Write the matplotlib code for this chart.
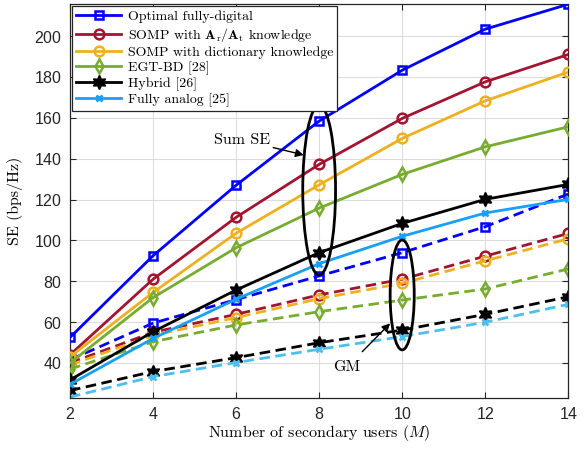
import matplotlib
matplotlib.use("Agg")
import matplotlib.pyplot as plt
from matplotlib.patches import Ellipse
import numpy as np

plt.rcParams['mathtext.fontset'] = 'cm'
plt.rcParams['axes.formatter.use_mathtext'] = True

M = [2, 4, 6, 8, 10, 12, 14]

# sum SE (solid)
optimal = [52.5, 92.5, 127.0, 158.4, 183.3, 203.4, 215.6]
somp_a = [44.0, 81.0, 111.3, 137.2, 159.7, 177.6, 191.0]
somp_dict = [43.0, 74.5, 103.5, 127.2, 149.9, 168.3, 182.4]
egt = [40.0, 72.0, 96.4, 115.8, 132.3, 145.8, 155.6]
hybrid = [31.7, 55.3, 75.7, 94.0, 108.3, 120.1, 127.4]
analog = [29.5, 52.0, 71.2, 88.6, 102.0, 113.4, 120.1]

# geometric mean (dashed)
optimal_gm = [41.5, 59.5, 71.0, 82.6, 94.0, 106.7, 122.7]
somp_a_gm = [40.0, 55.0, 63.8, 73.3, 81.0, 92.3, 103.4]
somp_dict_gm = [39.0, 53.5, 62.2, 71.5, 79.0, 90.0, 100.8]
egt_gm = [37.0, 50.4, 58.6, 65.1, 70.8, 76.2, 86.0]
hybrid_gm = [26.5, 35.8, 42.6, 49.9, 56.1, 63.8, 72.4]
analog_gm = [23.3, 33.3, 40.2, 46.7, 52.9, 59.9, 68.7]

labels = ['Optimal fully-digital',
          r'SOMP with $\mathbf{A}_\mathrm{r}/\mathbf{A}_\mathrm{t}$ knowledge',
          'SOMP with dictionary knowledge',
          'EGT-BD [28]',
          'Hybrid [26]',
          'Fully analog [25]']

serif = ['cmr10', 'DejaVu Serif']

fig = plt.figure(figsize=(5.87, 4.49), dpi=100)
ax = fig.add_axes([0.1193, 0.1143, 0.8488, 0.8767])

hexagram = (6, 1, 0)
styles = [
    dict(color='#0000FF', marker='s', ms=6, mfc='none', mew=1.8),
    dict(color='#A2142F', marker='o', ms=7, mfc='none', mew=1.8),
    dict(color='#EDB120', marker='o', ms=7, mfc='none', mew=1.8),
    dict(color='#77AC30', marker='d', ms=7.5, mfc='none', mew=1.8),
    dict(color='#000000', marker=hexagram, ms=10, mfc='#000000', mew=1.2),
    dict(color='#18A0F7', marker='x', ms=5, mfc='none', mew=2),
]
gm_colors = ['#0000FF', '#A2142F', '#EDB120', '#77AC30', '#000000', '#4DBEEE']

solid = [optimal, somp_a, somp_dict, egt, hybrid, analog]
dashed = [optimal_gm, somp_a_gm, somp_dict_gm, egt_gm, hybrid_gm, analog_gm]

for y, st, lab in zip(solid, styles, labels):
    ax.plot(M, y, '-', lw=2, label=lab, zorder=3, **st)
for y, st, c in zip(dashed, styles, gm_colors):
    st = dict(st)
    st['color'] = c
    if st['mfc'] != 'none':
        st['mfc'] = c
    ax.plot(M, y, '--', lw=2, dashes=(3.8, 2.0), zorder=2, **st)

ax.set_xlim(2, 14)
ax.set_ylim(23, 215.7)
ax.set_xticks(M)
ax.set_yticks(np.arange(40, 201, 20))
ax.grid(True, color='#DCDCDC', lw=0.8)
ax.set_axisbelow(True)
ax.tick_params(direction='in', top=True, right=True, length=4, width=0.8,
               colors='#262626', labelsize=11.5, pad=6)
for lab in ax.get_xticklabels() + ax.get_yticklabels():
    lab.set_family('Liberation Sans')
for s in ax.spines.values():
    s.set_color('#262626')
    s.set_linewidth(0.9)

ax.set_xlabel('Number of secondary users ($M$)', fontsize=11.5, family=serif, labelpad=1)
ax.set_ylabel('SE (bps/Hz)', fontsize=11.5, family=serif, labelpad=8)

# annotations
ax.add_patch(Ellipse((8, 124.6), 0.79, 83, fill=False, ec='black', lw=2, zorder=5))
ax.add_patch(Ellipse((10, 73.3), 0.58, 53.8, fill=False, ec='black', lw=2, zorder=5))
ax.annotate('Sum SE', xy=(7.63, 141.8), xytext=(6.15, 149.1), fontsize=11.5,
            family=serif, ha='center', va='center',
            arrowprops=dict(arrowstyle='-|>', color='black', lw=1, shrinkA=0, shrinkB=0,
                            mutation_scale=12))
ax.annotate('GM', xy=(9.71, 59.4), xytext=(8.67, 37.9), fontsize=11.5,
            family=serif, ha='center', va='center',
            arrowprops=dict(arrowstyle='-|>', color='black', lw=1, shrinkA=6, shrinkB=0,
                            mutation_scale=12))

leg = ax.legend(loc='upper left', bbox_to_anchor=(0.0, 1.0), borderaxespad=0.15,
                prop={'family': serif, 'size': 10}, handlelength=3.2,
                labelspacing=0.18, handletextpad=0.5, borderpad=0.3,
                fancybox=False, framealpha=1, edgecolor='#262626')
leg.get_frame().set_linewidth(0.9)

fig.savefig('out.png', dpi=100)
